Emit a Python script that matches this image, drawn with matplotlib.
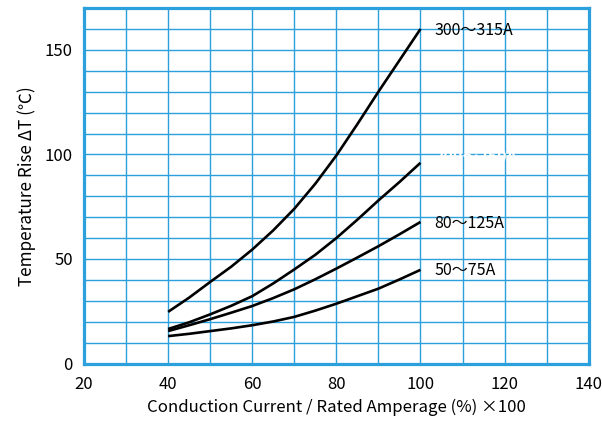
import numpy as np
import matplotlib
matplotlib.use('Agg')
import matplotlib.pyplot as plt

plt.rcParams['font.family'] = ['Noto Sans CJK JP', 'DejaVu Sans']

# values, every 5 % step
x_pct = [40, 45, 50, 55, 60, 65, 70, 75, 80, 85, 90, 95, 100]
rise_300_315 = [24.7, 31.5, 39, 46.3, 54.5, 63.7, 74, 86, 99.5, 114.5, 130, 145, 160]
rise_200_250 = [16.5, 19.7, 23.5, 27.6, 32.2, 38.3, 45, 52, 60, 68.8, 78, 86.8, 96]
rise_80_125 = [15.5, 18.3, 21.2, 24.3, 27.5, 31.3, 35.5, 40.3, 45.4, 50.7, 56.1, 61.8, 67.7]
rise_50_75 = [13.1, 14.2, 15.5, 16.8, 18.3, 20.1, 22.3, 25.3, 28.6, 32.2, 35.8, 40.2, 44.8]

labels = ['300〜315A', '200〜250A', '80〜125A', '50〜75A']
label_y = [159.5, 99, 67, 44.5]
label_color = ['black', 'white', 'black', 'black']

x_ticks = [20, 40, 60, 80, 100, 120, 140]
y_ticks = [0, 50, 100, 150]

blue = '#2ba0dc'

fig = plt.figure(figsize=(6.02, 4.25), dpi=100)
ax = fig.add_axes([0.1395, 0.1447, 0.8385, 0.8363])

ax.set_xlim(20, 140)
ax.set_ylim(0, 170)
ax.set_xticks(np.arange(20, 141, 10), minor=True)
ax.set_yticks(np.arange(0, 171, 10), minor=True)
ax.set_xticks(x_ticks)
ax.set_yticks(y_ticks)
ax.grid(which='both', color=blue, linewidth=1.0)
ax.tick_params(which='both', length=0, labelsize=12)
ax.tick_params(axis='x', pad=9)
ax.tick_params(axis='y', pad=8)
for s in ax.spines.values():
    s.set_color(blue)
    s.set_linewidth(2.3)

curves = [rise_300_315, rise_200_250, rise_80_125, rise_50_75]
for ys in curves:
    ax.plot(x_pct, ys, color='black', linewidth=1.9, solid_capstyle='butt',
            solid_joinstyle='round')

for lab, ly, c in zip(labels, label_y, label_color):
    ax.text(103.3, ly, lab, color=c, fontsize=11.5, va='center', ha='left',
            fontweight='bold' if c == 'white' else 'normal', zorder=5)

ax.set_xlabel('Conduction Current / Rated Amperage (%) ×100', fontsize=12.1, labelpad=4)
ax.set_ylabel('Temperature Rise ΔT (℃)', fontsize=12.3, labelpad=6)

fig.savefig('out.png', dpi=100)
